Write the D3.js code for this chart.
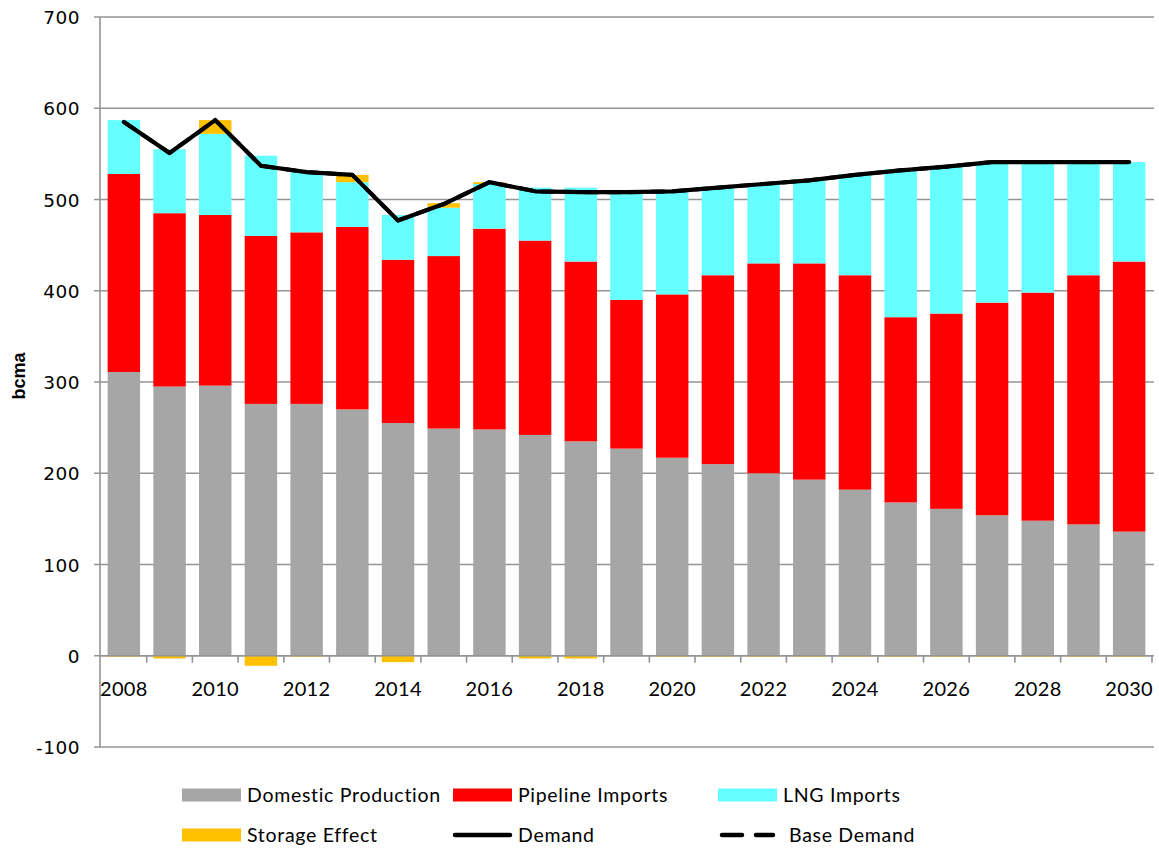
<!DOCTYPE html>
<html>
<head>
<meta charset="utf-8">
<script src="https://cdn.jsdelivr.net/npm/d3@7"></script>
<style>
  html, body { margin: 0; padding: 0; background: #fff; }
  svg { display: block; }
</style>
</head>
<body>
<svg id="chart" width="1159" height="850"></svg>
<script>
const years = ["2008","2009","2010","2011","2012","2013","2014","2015","2016","2017","2018","2019","2020","2021","2022","2023","2024","2025","2026","2027","2028","2029","2030"];
const domesticProduction = [311,295,296,276,276,270,255,249,248,242,235,227,217,210,200,193,182,168,161,154,148,144,136];
const pipelineImports    = [217,190,187,184,188,200,179,189,220,213,197,163,179,207,230,237,235,203,214,233,250,273,296];
const lngImports         = [59,70,89,88,66,49,49,53,49,58,81,118,114,97,88,92,111,162,162,154,143,124,109];
const storageEffect      = [-1,-3,15,-11,-1,8,-7,5,2,-3,-3,0,-1,-1,-1,-1,-1,-1,-1,-1,-1,-1,-1];
const demand             = [585,551,587,537,530,527,477,495,519,509,508,508,509,513,517,521,527,532,536,541,541,541,541];
const baseDemand         = [585,551,587,537,530,527,477,495,519,509,508,508,509,513,517,521,527,532,536,541,541,541,541];
const yTicks = [-100,0,100,200,300,400,500,600,700];
const xLabels = ["2008","2010","2012","2014","2016","2018","2020","2022","2024","2026","2028","2030"];

(function () {
const colors = { dom: "#A6A6A6", pipe: "#FF0000", lng: "#66FFFF", stor: "#FFC000" };

const svg = d3.select("#chart");
const pl = 101, pr = 1152, pt = 17, pb = 747;

const x = d3.scaleBand().domain(years).range([pl, pr]).paddingInner(0.29).paddingOuter(0.145);
const y = d3.scaleLinear().domain([-100, 700]).range([pb, pt]);

// gridlines
svg.append("g").selectAll("line").data(yTicks).join("line")
  .attr("x1", pl - 7).attr("x2", pr + 2)
  .attr("y1", d => y(d)).attr("y2", d => y(d))
  .attr("stroke", "#949494").attr("stroke-width", 1.6);

// y axis line
svg.append("line").attr("x1", pl - 1).attr("x2", pl - 1)
  .attr("y1", y(700)).attr("y2", y(-100))
  .attr("stroke", "#949494").attr("stroke-width", 1.6);

// y tick labels
svg.append("g").selectAll("text").data(yTicks).join("text")
  .attr("x", 80).attr("y", d => y(d) + 7)
  .attr("text-anchor", "end")
  .attr("font-family", "'DejaVu Sans', Verdana, sans-serif")
  .attr("font-size", "18.5px").attr("fill", "#000")
  .attr("letter-spacing", "0.5px")
  .text(d => d);

// stacked data
const rows = years.map((yr, i) => ({
  year: yr, dom: domesticProduction[i], pipe: pipelineImports[i], lng: lngImports[i], stor: storageEffect[i]
}));

const bars = svg.append("g");
rows.forEach(r => {
  let base = 0;
  [["dom", r.dom], ["pipe", r.pipe], ["lng", r.lng]].forEach(([k, v]) => {
    bars.append("rect")
      .attr("x", x(r.year)).attr("width", x.bandwidth())
      .attr("y", y(base + v)).attr("height", y(base) - y(base + v))
      .attr("fill", colors[k]);
    base += v;
  });
  if (r.stor > 0) {
    bars.append("rect")
      .attr("x", x(r.year)).attr("width", x.bandwidth())
      .attr("y", y(base + r.stor)).attr("height", y(base) - y(base + r.stor))
      .attr("fill", colors.stor);
  } else if (r.stor < 0) {
    bars.append("rect")
      .attr("x", x(r.year)).attr("width", x.bandwidth())
      .attr("y", y(0)).attr("height", y(r.stor) - y(0))
      .attr("fill", colors.stor);
  }
});

// x axis at zero
svg.append("line").attr("x1", pl - 1).attr("x2", pr)
  .attr("y1", y(0)).attr("y2", y(0))
  .attr("stroke", "#949494").attr("stroke-width", 1.6);
const bounds = years.map((yr) => x(yr) - x.step() * x.paddingInner() / 2).slice(1).concat([pr]);
svg.append("g").selectAll("line").data(bounds).join("line")
  .attr("x1", d => d).attr("x2", d => d)
  .attr("y1", y(0)).attr("y2", y(0) + 7)
  .attr("stroke", "#949494").attr("stroke-width", 1.6);

// x labels
svg.append("g").selectAll("text").data(xLabels).join("text")
  .attr("x", d => x(d) + x.bandwidth() / 2).attr("y", 696)
  .attr("text-anchor", "middle")
  .attr("font-family", "Lato, 'Open Sans', sans-serif")
  .attr("font-size", "20px").attr("fill", "#000")
  .attr("letter-spacing", "0.3px")
  .text(d => d);

// lines
const line = d3.line().x((d, i) => x(years[i]) + x.bandwidth() / 2).y(d => y(d));
svg.append("path").datum(baseDemand).attr("d", line)
  .attr("fill", "none").attr("stroke", "#000").attr("stroke-width", 4)
  .attr("stroke-dasharray", "14,8");
svg.append("path").datum(demand).attr("d", line)
  .attr("fill", "none").attr("stroke", "#000").attr("stroke-width", 4.2)
  .attr("stroke-linejoin", "round").attr("stroke-linecap", "round");

// y axis title
svg.append("text")
  .attr("transform", "translate(25,376) rotate(-90)")
  .attr("text-anchor", "middle")
  .attr("font-family", "'Liberation Sans Narrow', 'Liberation Sans', sans-serif")
  .attr("font-weight", "bold").attr("font-size", "18px")
  .text("bcma");

// legend
const legendItems = [
  { label: "Domestic Production", type: "rect", color: colors.dom, x: 182, y: 795 },
  { label: "Pipeline Imports", type: "rect", color: colors.pipe, x: 453, y: 795 },
  { label: "LNG Imports", type: "rect", color: colors.lng, x: 718, y: 795 },
  { label: "Storage Effect", type: "rect", color: colors.stor, x: 182, y: 835 },
  { label: "Demand", type: "line", color: "#000", x: 453, y: 835 },
  { label: "Base Demand", type: "dash", color: "#000", x: 720, y: 835 }
];
const lg = svg.append("g");
legendItems.forEach(it => {
  if (it.type === "rect") {
    lg.append("rect").attr("x", it.x).attr("y", it.y - 6.5).attr("width", 59).attr("height", 13).attr("fill", it.color);
  } else if (it.type === "line") {
    lg.append("line").attr("x1", it.x + 2).attr("x2", it.x + 57).attr("y1", it.y).attr("y2", it.y)
      .attr("stroke", it.color).attr("stroke-width", 4.5).attr("stroke-linecap", "round");
  } else {
    lg.append("line").attr("x1", it.x + 2).attr("x2", it.x + 53).attr("y1", it.y).attr("y2", it.y)
      .attr("stroke", it.color).attr("stroke-width", 4.5).attr("stroke-linecap", "round")
      .attr("stroke-dasharray", "20,14");
  }
  lg.append("text")
    .attr("x", it.type === "dash" ? it.x + 69 : it.x + 65)
    .attr("y", it.y + 7)
    .attr("font-family", "Lato, 'Open Sans', sans-serif")
    .attr("font-size", "19.5px").attr("fill", "#000")
    .attr("letter-spacing", "0.7px")
    .text(it.label);
});
})();
</script>
</body>
</html>
